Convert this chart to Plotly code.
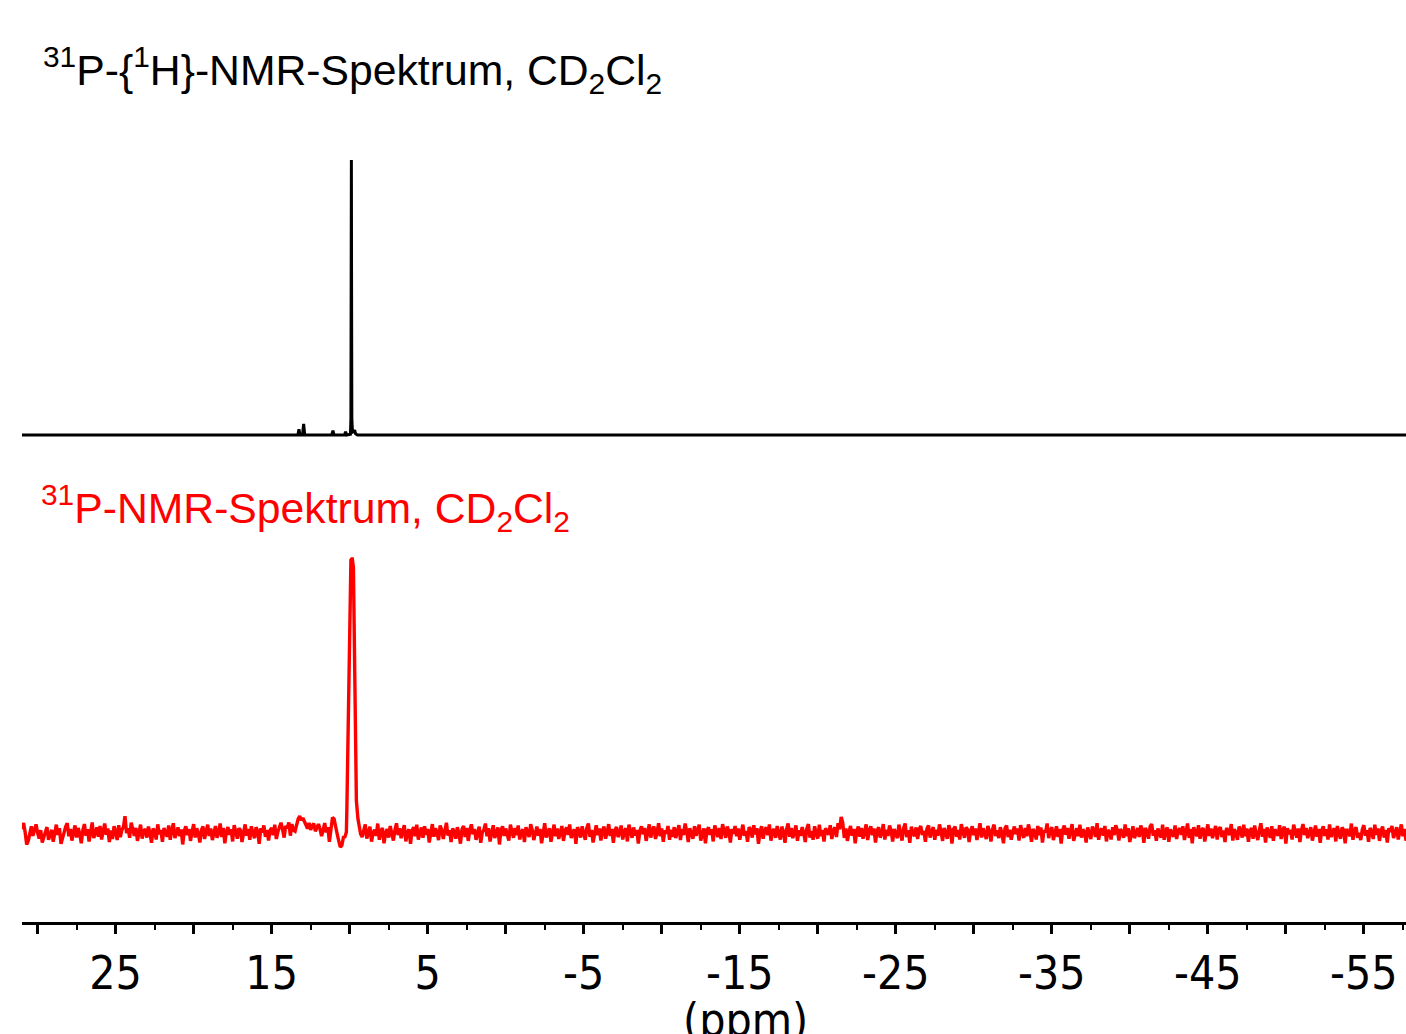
import plotly.graph_objects as go

# ---------------- data ----------------
# 31P-{1H} spectrum (black): chemical shift (ppm) and relative intensity (main peak = 1000)
black_ppm = [31.0, 13.32, 13.25, 13.18, 13.02, 12.95, 12.88, 11.15, 11.07, 11.0,
             10.33, 10.26, 10.19, 9.95, 9.92, 9.9, 9.89, 9.88, 9.86, 9.82,
             9.74, 9.68, 9.62, 9.5, -58.0]
black_int = [0, 0, 21, 0, 0, 40, 0, 0, 16, 0,
             0, 12, 0, 3, 60, 600, 1000, 600, 60, 10,
             12, 18, 4, 0, 0]

# 31P spectrum (red): baseline left of the signal, one value every 0.1 ppm from 31.0 ppm
red_left_start = 31.0
red_left_noise = [
    17, 40, 7, -38, -25, 11, 28, -7, 20, 35, 4, -17, 14, -31, -11, 8, 25, -21, 3, 15,
    -28, 13, 34, -4, 21, -36, -14, 10, 27, 39, -8, 18, -24, 6, 31, -13, 22, 1, -34, 14,
    36, -6, 17, -27, 11, 42, -15, 4, 24, -10, 29, -20, 7, 38, -3, 20, -29, 13, -18, 28,
    8, -22, 32, -11, 15, 25, 65, 3, 21, -14, 41, 10, -7, 22, -25, 6, 34, -17, 11, 18,
    -13, 27, 4, -32, 20, 10, -20, 35, -1, 14, -28, 22, 7, -10, 31, -21, 13, 39, -15, 6,
    24, -8, 17, -38, 11, 28, -4, 18, -25, 8, 36, -13, 21, 1, -31, 15, 27, -18, 10, 34,
    -7, 20, -22, 13, 29, -14, 4, 38, -11, 22, -34, 7, 25, -3, 17, -27, 32, 8, -17, 21,
    14, -29, 10, 35, -6, 18, -21, 28, 3, -15, 25, 11, -36, 20, 6, 31, -10, 15, -24, 13,
    22, -4, 34, -18, 8, 27, 41, 17, -13, 29, 21, 42, -6, 36, 14, 10, 40, 55, 65, 50,
    58, 45, 30, 20, 40, 15, 30, 38, 10, 28, 36, 18, -8, 14, 40, 6, 25, -28, 11, 60,
    55, 18, 0, -25, -48, -42, -12,
]
# red main signal
red_peak_ppm = [10.3, 10.21, 10.18, 10.11, 10.04, 9.98, 9.92, 9.87, 9.83, 9.76,
                9.70, 9.63, 9.57, 9.47, 9.36, 9.3]
red_peak_int = [-10, 7, 90, 340, 700, 950, 996, 1000, 1000, 970,
                700, 400, 120, 55, 25, 0]
# baseline right of the signal, one value every 0.1 ppm from 9.2 ppm
red_right_start = 9.2
red_right_noise = [
    -11, 20, 35, -17, 8, 27, -28, 4, 15, -7, 38, -21, 11, 22, -34, 3, 18, -13, 29, 7,
    -24, 14, 39, -4, 21, -15, 10, 32, -27, 6, 17, -36, 13, 25, -8, 34, -20, 1, 24, -14,
    28, -3, 18, -31, 11, 36, -10, 21, 4, -22, 31, 15, -18, 7, 41, -6, 14, -29, 20, 8,
    -17, 25, 3, -35, 17, 29, -11, 22, -25, 13, 35, -1, 18, -21, 10, 27, -32, 6, 15, 38,
    -8, 21, -27, 11, 32, -15, 4, 24, -38, 14, 28, -7, 20, 1, -24, 34, 13, -14, 22, -4,
    31, -20, 8, 17, -29, 25, 6, -11, 36, 15, -22, 10, 27, -6, 18, -34, 14, 39, -13, 3,
    21, -28, 13, 34, -8, 20, -18, 4, 29, -25, 11, 24, -3, 35, -15, 7, 17, -36, 25, 10,
    -13, 28, 1, -21, 22, 38, -10, 15, -31, 8, 32, -4, 20, -24, 13, 27, -17, 6, 36, -7,
    18, -32, 14, 25, -11, 4, 31, -20, 10, 21, -27, 34, 3, -14, 24, -6, 15, -35, 11, 28,
    -1, 22, -25, 7, 35, -13, 17, 27, -18, 6, 39, -8, 20, -28, 13, 1, 29, -21, 15, -10,
    25, -15, 8, 32, -22, 18, -4, 38, 11, -29, 21, 3, -17, 28, -7, 14, 34, -24, 6, 20,
    -34, 13, 24, -3, 17, -27, 31, 7, -11, 22, -18, 36, 4, -14, 27, 10, -31, 18, 1, 29,
    -8, 20, -21, 14, 34, -6, 11, -28, 25, 15, -13, 32, -1, 21, -36, 8, 28, -17, 13, 24,
    -4, 35, -24, 10, 18, -14, 29, 3, -20, 27, 7, -32, 17, 38, -10, 22, -15, 6, 31, -25,
    14, -7, 25, 4, -29, 20, 36, -13, 11, -21, 28, 1, -17, 34, -8, 15, -27, 21, 8, -3,
    32, -18, 13, 24, -11, 39, 17, 62, 42, -14, 20, -25, 8, 29, -6, 18, -34, 11, 27, -10,
    22, -17, 6, 35, -22, 14, 28, -4, 20, -31, 10, 25, -13, 3, 36, -20, 15, -7, 31, 13,
    -27, 18, 1, -15, 34, 8, -24, 21, 38, -11, 14, -32, 27, 4, -8, 24, -18, 17, 29, -3,
    11, -28, 20, 31, -13, 7, 25, -21, 15, -6, 35, 10, -25, 22, 1, -17, 32, 13, -35, 18,
    27, -10, 14, -20, 36, 6, -14, 24, 17, -29, 11, 28, -4, 20, -22, 8, 39, -13, 21, 3,
    -18, 29, 10, -27, 17, 34, -7, 13, -15, 25, 4, -34, 21, 31, -11, 15, -21, 7, 27, -1,
    20, -24, 32, 3, -14, 22, -8, 35, 11, -28, 18, 8, -20, 29, -4, 24, -31, 14, 6, 38,
    -15, 13, 25, -22, 7, 28, -11, 18, -35, 15, 31, -3, 22, -17, 10, 36, -25, 4, 21, -8,
    34, -13, 17, 8, -31, 24, 1, -18, 27, 14, -10, 39, -21, 11, 20, -6, 29, -27, 15, 7,
    -20, 25, -4, 32, 13, -24, 18, 6, -14, 35, -8, 21, -29, 10, 28, -15, 3, 22, -11, 31,
    15, -32, 22, 7, -17, 27, 36, -6, 14, -25, 20, 4, -13, 34, -21, 11, 24, -28, 17, 1,
    -10, 31, -18, 13, 21, -3, 28, -22, 8, 38, -14, 18, -34, 25, 6, -8, 32, -17, 14, 22,
    -27, 10, 35, -7, 20, -15, 4, 29, -20, 17, 25, -11, 13, -29, 22, 8, -4, 36, -24, 18,
    3, -21, 27, 15, -13, 34, -8, 20, -28, 11, 22, -17, 31, 1, -22, 14, 39, -10, 18, -31,
    24, 6, -14, 28, -25, 17, 8, -6, 32, -18, 13, 27, -35, 21, -1, 15, -20, 34, 10, -13,
    20, -29, 14, 36, -4, 22, -15, 11, 25, -24, 7, 31, -10, 18, -32, 13, 28, -7, 17, -20,
    35, -11, 8, 21, -27, 29, 3, -17, 24, 15, -34, 18, 6, -8, 38, -21, 13, 25, -14, 4,
    -22, 17, 32, -6, 14, -28, 22, 10, -18, 34, -3, 20, -25, 11, 27, -13, 15, -31, 21, 8,
    29, -15, 4, 25, -20, 13, 35, -8, 18, -24, 10, 28, -4, 15, -34, 22, 3, -14, 31, 11,
]
red_step = 0.1

# axis
x_range = [31.0, -57.7]
labelled_ticks = [25, 15, 5, -5, -15, -25, -35, -45, -55]
unlabelled_ticks = [30, 20, 10, 0, -10, -20, -30, -40, -50]
minor_ticks = [27.5, 22.5, 17.5, 12.5, 7.5, 2.5, -2.5, -7.5, -12.5, -17.5, -22.5, -27.5,
               -32.5, -37.5, -42.5, -47.5, -52.5, -57.5]

title_black = "<sup>31</sup>P-{<sup>1</sup>H}-NMR-Spektrum, CD<sub>2</sub>Cl<sub>2</sub>"
title_red = "<sup>31</sup>P-NMR-Spektrum, CD<sub>2</sub>Cl<sub>2</sub>"
axis_title = "(ppm)"

# ---------------- build the red trace ----------------
red_x = [round(red_left_start - red_step * i, 3) for i in range(len(red_left_noise))]
red_y = list(red_left_noise)
red_x += red_peak_ppm
red_y += red_peak_int
red_x += [round(red_right_start - red_step * i, 3) for i in range(len(red_right_noise))]
red_y += list(red_right_noise)

# page layout (body margin removed, so figure pixels == page pixels)
FIG_W, FIG_H = 1406, 1034
AXIS_Y = 922          # y of the x axis line
PLOT_LEFT = 22        # x of the axis start
PLOT_W = FIG_W - PLOT_LEFT
PLOT_H = AXIS_Y
SCALE = 0.275
BLACK_OFF = 487
RED_OFF = 88


def px(xp):
    return (xp - PLOT_LEFT) / PLOT_W


def py(yp):
    return (AXIS_Y - yp) / PLOT_H


fig = go.Figure()
fig.add_trace(go.Scatter(x=black_ppm, y=[BLACK_OFF + SCALE * v for v in black_int],
                         mode="lines", line=dict(color="black", width=3), hoverinfo="skip"))
fig.add_trace(go.Scatter(x=red_x, y=[RED_OFF + SCALE * v for v in red_y],
                         mode="lines", line=dict(color="#ff0000", width=3.4), hoverinfo="skip"))
fig.add_trace(go.Scatter(x=[None], y=[None], xaxis="x2", mode="lines", hoverinfo="skip"))

tick_font = dict(family="DejaVu Sans Condensed, DejaVu Sans", size=46, color="black")
title_font = dict(family="Liberation Sans, Arial", size=42.7)

fig.update_layout(
    width=FIG_W, height=FIG_H,
    margin=dict(l=PLOT_LEFT, r=0, t=0, b=FIG_H - AXIS_Y, autoexpand=False),
    paper_bgcolor="white", plot_bgcolor="white",
    showlegend=False,
    xaxis=dict(
        range=x_range, autorange=False, automargin=False, showgrid=False, zeroline=False,
        showline=True, linecolor="black", linewidth=3,
        ticks="outside", ticklen=9, tickwidth=3, tickcolor="black",
        tickmode="array", tickvals=labelled_ticks,
        ticktext=[str(t) for t in labelled_ticks],
        tickfont=tick_font, ticklabelstandoff=0,
        minor=dict(tickmode="array", tickvals=minor_ticks, ticks="outside",
                   ticklen=5, tickwidth=2, tickcolor="black", showgrid=False),
    ),
    xaxis2=dict(
        range=x_range, autorange=False, automargin=False, overlaying="x", anchor="y", side="bottom",
        showgrid=False, zeroline=False, showline=True, linecolor="black", linewidth=3,
        ticks="outside", ticklen=9, tickwidth=3, tickcolor="black",
        tickmode="array", tickvals=unlabelled_ticks, showticklabels=False,
    ),
    yaxis=dict(range=[0, PLOT_H], autorange=False, visible=False, showgrid=False, zeroline=False),
    annotations=[
        dict(text=title_black, xref="paper", yref="paper", x=px(41), y=py(70),
             xanchor="left", yanchor="middle", showarrow=False, font=dict(color="black", **title_font)),
        dict(text=title_red, xref="paper", yref="paper", x=px(39), y=py(508),
             xanchor="left", yanchor="middle", showarrow=False, font=dict(color="#ff0000", **title_font)),
        dict(text=axis_title, xref="paper", yref="paper", x=px(745), y=py(1020),
             xanchor="center", yanchor="middle", showarrow=False, font=tick_font),
    ],
)

fig.write_html(
    "out.html",
    config={"displayModeBar": False},
    post_script="document.body.style.margin='0';document.body.style.overflow='hidden';",
)
